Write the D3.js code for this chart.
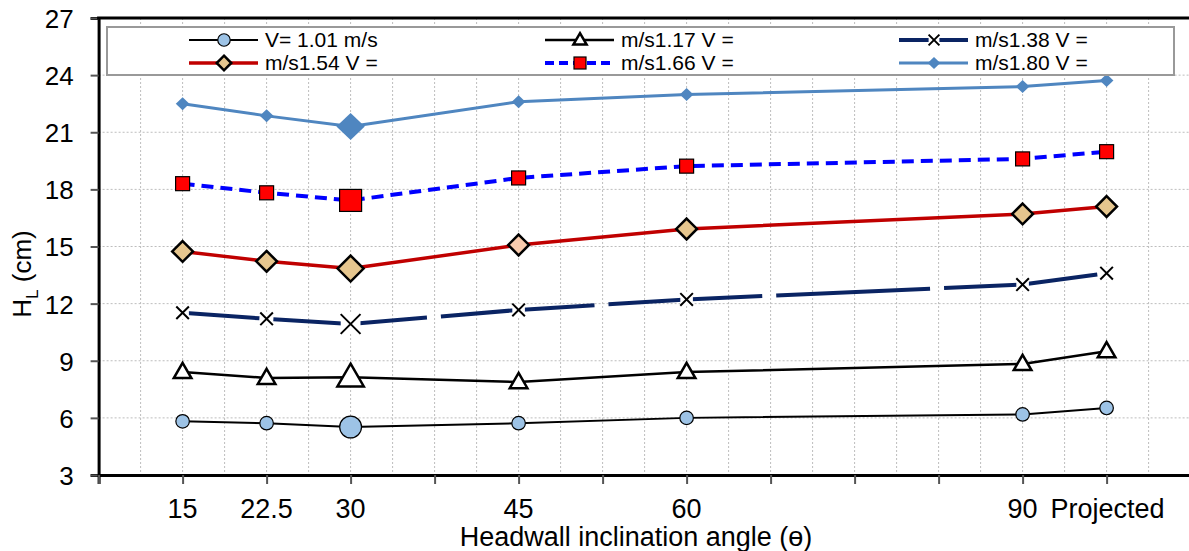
<!DOCTYPE html>
<html lang="en">
<head>
    <meta charset="UTF-8">
    <script src="https://cdn.jsdelivr.net/npm/d3@7"></script>
    <title>Head loss vs headwall inclination angle</title>
    <style>
        body { margin: 0; background: white; }
        text { font-family: "Liberation Sans", Arial, sans-serif; fill: #000; }
        .grid line { stroke: #bdbdbd; stroke-width: 1; stroke-dasharray: 2,2; }
    </style>
</head>
<body>
<div id="chart"></div>
<script>
    // Data
    const angles = [15, 22.5, 30, 45, 60, 90, 97.5];
    const angleLabels = ["15", "22.5", "30", "45", "60", "90", "Projected"];
    const yTicks = [3, 6, 9, 12, 15, 18, 21, 24, 27];

    const v101 = [5.82, 5.72, 5.52, 5.72, 6.0, 6.18, 6.52];
    const v117 = [8.41, 8.1, 8.13, 7.88, 8.41, 8.83, 9.5];
    const v138 = [11.52, 11.2, 10.93, 11.67, 12.22, 13.0, 13.6];
    const v154 = [14.74, 14.22, 13.84, 15.08, 15.92, 16.71, 17.1];
    const v166 = [18.3, 17.82, 17.42, 18.6, 19.22, 19.6, 19.98];
    const v180 = [22.5, 21.86, 21.3, 22.6, 22.98, 23.4, 23.72];

    const legendNames = ["V= 1.01 m/s", "m/s1.17 V =", "m/s1.38 V =",
                         "m/s1.54 V =", "m/s1.66 V =", "m/s1.80 V ="];

    const W = 1189, H = 551;
    const svg = d3.select("#chart").append("svg")
        .attr("width", W).attr("height", H);

    const x = d3.scaleLinear().domain([7.5, 105]).range([98.6, 1190.6]);
    const y = d3.scaleLinear().domain([3, 27]).range([475, 18]);

    // Grid
    const grid = svg.append("g").attr("class", "grid");
    grid.selectAll(".hg").data(yTicks.slice(1, -1)).enter().append("line")
        .attr("x1", x(7.5)).attr("x2", W)
        .attr("y1", d => y(d)).attr("y2", d => y(d));
    grid.selectAll(".vg").data(d3.range(11.25, 105, 3.75)).enter().append("line")
        .attr("x1", d => x(d)).attr("x2", d => x(d))
        .attr("y1", y(27)).attr("y2", y(3));

    // Axes
    const yAxis = d3.axisLeft(y).tickValues(yTicks).tickSize(8).tickPadding(17);
    const gy = svg.append("g").attr("transform", `translate(${x(7.5)},0)`).call(yAxis);
    gy.select(".domain").attr("stroke-width", 3);
    gy.selectAll("text").style("font-size", "26px").attr("dy", "0.36em");

    const xAxis = d3.axisBottom(x).tickValues(d3.range(7.5, 105, 7.5))
        .tickSize(9).tickFormat("");
    const gx = svg.append("g").attr("transform", `translate(0,${y(3)})`).call(xAxis);
    gx.select(".domain").attr("stroke-width", 3);
    gx.selectAll(".tick line").attr("stroke", "#555").attr("stroke-width", 2);
    gy.selectAll(".tick line").attr("stroke", "#555").attr("stroke-width", 2);

    svg.append("g").selectAll("text").data(angles).enter().append("text")
        .attr("x", (d, i) => x(d) + (i === 6 ? 1 : 0))
        .attr("y", 518)
        .attr("text-anchor", "middle")
        .style("font-size", "27px")
        .text((d, i) => angleLabels[i]);

    // top frame
    svg.append("line").attr("x1", x(7.5) - 1.5).attr("x2", W)
        .attr("y1", y(27)).attr("y2", y(27))
        .attr("stroke", "#000").attr("stroke-width", 3);

    svg.append("text").attr("x", 636).attr("y", 546)
        .attr("text-anchor", "middle").style("font-size", "27px")
        .text("Headwall inclination angle (ɵ)");

    const yt = svg.append("text").attr("transform", "translate(31,274) rotate(-90)")
        .attr("text-anchor", "middle").style("font-size", "26px");
    yt.append("tspan").text("H");
    yt.append("tspan").attr("dy", 7).style("font-size", "17px").text("L");
    yt.append("tspan").attr("dy", -7).text(" (cm)");

    // Series definitions
    const series = [
        { vals: v101, stroke: "#000", width: 2, dash: null, marker: "circle", fill: "#9dc3e6", mstroke: "#000" },
        { vals: v117, stroke: "#000", width: 2.5, dash: null, marker: "triangle", fill: "#fff", mstroke: "#000" },
        { vals: v138, stroke: "#0a2463", width: 4, dash: "154,14", offset: 77, marker: "cross", fill: "none", mstroke: "#000" },
        { vals: v154, stroke: "#c00000", width: 3.5, dash: null, marker: "diamond", fill: "#e6c68e", mstroke: "#000" },
        { vals: v166, stroke: "#0000ff", width: 4, dash: "12,7", marker: "square", fill: "#ff0000", mstroke: "#000" },
        { vals: v180, stroke: "#4f86c0", width: 3, dash: null, marker: "bdiamond", fill: "#4f86c0", mstroke: "none" }
    ];

    const line = d3.line().x((d, i) => x(angles[i])).y(d => y(d));

    function drawMarker(g, type, cx, cy, s, fill, stroke) {
        if (type === "circle") {
            g.append("circle").attr("cx", cx).attr("cy", cy).attr("r", s * 0.52)
                .attr("fill", fill).attr("stroke", stroke).attr("stroke-width", 1.2);
        } else if (type === "triangle") {
            const h = s * 0.95, w = s * 1.1;
            g.append("path")
                .attr("d", `M${cx},${cy - h * 0.6}L${cx + w / 2},${cy + h * 0.4}L${cx - w / 2},${cy + h * 0.4}Z`)
                .attr("fill", fill).attr("stroke", stroke).attr("stroke-width", 2.5)
                .attr("stroke-linejoin", "miter");
        } else if (type === "cross") {
            const r = s * 0.45;
            g.append("rect").attr("x", cx - r).attr("y", cy - r).attr("width", 2 * r).attr("height", 2 * r)
                .attr("fill", "#fff");
            g.append("path")
                .attr("d", `M${cx - r},${cy - r}L${cx + r},${cy + r}M${cx - r},${cy + r}L${cx + r},${cy - r}`)
                .attr("stroke", stroke).attr("stroke-width", 2);
        } else if (type === "diamond") {
            const r = s * 0.52;
            g.append("path")
                .attr("d", `M${cx},${cy - r}L${cx + r},${cy}L${cx},${cy + r}L${cx - r},${cy}Z`)
                .attr("fill", fill).attr("stroke", stroke).attr("stroke-width", 2.5);
        } else if (type === "square") {
            const r = s * 0.5;
            g.append("rect").attr("x", cx - r).attr("y", cy - r).attr("width", 2 * r).attr("height", 2 * r)
                .attr("fill", fill).attr("stroke", stroke).attr("stroke-width", 1.2);
        } else if (type === "bdiamond") {
            const r = s * 0.5;
            g.append("path")
                .attr("d", `M${cx},${cy - r}L${cx + r * 1.05},${cy}L${cx},${cy + r}L${cx - r * 1.05},${cy}Z`)
                .attr("fill", fill);
        }
    }

    const baseSize = { circle: 13, triangle: 16, cross: 14, diamond: 20, square: 14, bdiamond: 13 };
    const bigSize = { circle: 21, triangle: 24, cross: 22, diamond: 25, square: 22, bdiamond: 27 };

    const plot = svg.append("g");
    series.forEach(s => {
        const p = plot.append("path").datum(s.vals)
            .attr("d", line)
            .attr("fill", "none")
            .attr("stroke", s.stroke)
            .attr("stroke-width", s.width)
            .attr("stroke-linejoin", "round");
        if (s.dash) p.attr("stroke-dasharray", s.dash).attr("stroke-dashoffset", s.offset || 0);
        const mg = plot.append("g");
        s.vals.forEach((v, i) => {
            const big = angles[i] === 30;
            let fill = s.fill;
            if (s.marker === "diamond" && angles[i] === 45) fill = "#f8cbad";
            drawMarker(mg, s.marker, x(angles[i]), y(v), big ? bigSize[s.marker] : baseSize[s.marker], fill, s.mstroke);
        });
    });

    // Legend
    const lg = svg.append("g");
    lg.append("rect").attr("x", 107).attr("y", 27).attr("width", 1067).attr("height", 48)
        .attr("fill", "#fff").attr("stroke", "#999").attr("stroke-width", 2);
    const colX = [189, 545, 899];
    const rowY = [40, 63];
    series.forEach((s, i) => {
        const lx = colX[i % 3], ly = rowY[Math.floor(i / 3)];
        const l = lg.append("line").attr("x1", lx).attr("x2", lx + 69)
            .attr("y1", ly).attr("y2", ly)
            .attr("stroke", s.stroke).attr("stroke-width", s.width);
        if (s.dash) l.attr("stroke-dasharray", i === 4 ? "9,5" : null);
        drawMarker(lg, s.marker, lx + 35, ly, s.marker === "diamond" ? 14 : 12, s.fill, s.mstroke);
        lg.append("text").attr("x", lx + 76).attr("y", ly + 7)
            .style("font-size", "21px").text(legendNames[i]);
    });
</script>
</body>
</html>
